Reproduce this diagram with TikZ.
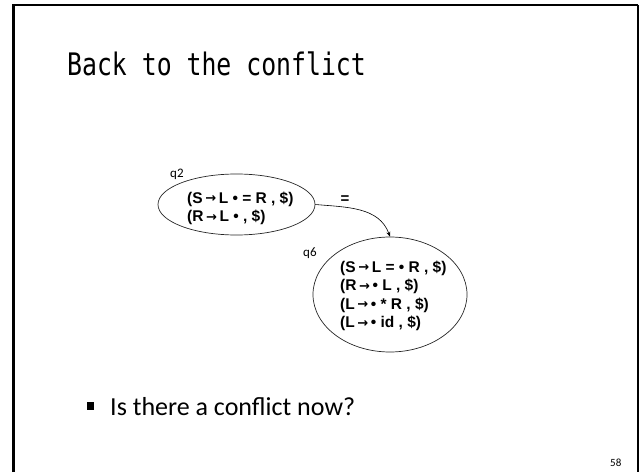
\documentclass[tikz,border=0pt]{standalone}
\usepackage{fontspec}
\setmainfont{Carlito}
\newfontfamily\titlefont{DejaVu Sans Mono}
\newfontfamily\itemfont{Liberation Sans}
\newfontfamily\arrowfont{DejaVu Sans}
\newcommand{\itemarrow}{\,{\arrowfont\bfseries\fontsize{13}{13}\selectfont\raisebox{0.5pt}{→}}\,}
\usetikzlibrary{positioning,shapes.geometric,arrows.meta}

\begin{document}
\begin{tikzpicture}[
    x=1pt, y=1pt,
    stateell/.style={ellipse, draw=black!85, line width=0.7pt, inner sep=0pt},
    items/.style={anchor=west, inner sep=0pt, align=left, font=\itemfont\bfseries\fontsize{15.5}{18.5}\selectfont},
    statelbl/.style={anchor=base west, inner sep=0pt, font=\fontsize{13}{15}\selectfont},
    trans/.style={-{Stealth[length=5pt,width=4pt]}, line width=0.6pt}
]
\useasboundingbox (0,0) rectangle (639,472);

% slide frame
\draw[line width=3pt] (13.5,0) -- (13.5,468);
\draw[line width=2pt] (12,467) -- (638,467);
\draw[line width=1.2pt] (638,467) -- (638,0);

\node[anchor=base west, inner sep=0pt] (title) at (67,396)
    {\scalebox{0.8}[1]{\titlefont\fontsize{31}{36}\selectfont Back to the conflict}};

% states
\node[stateell, minimum width=157pt, minimum height=61pt] (q2) at (236.5,267.5) {};
\node[stateell, minimum width=154pt, minimum height=115pt] (q6) at (390,177.5) {};
\node[items] (q2items) at (187,263.5) {(S\itemarrow L • = R , \$)\\(R\itemarrow L • , \$)};
\node[items] (q6items) at (340,176) {(S\itemarrow L = • R , \$)\\(R\itemarrow • L , \$)\\(L\itemarrow • * R , \$)\\(L\itemarrow • id , \$)};
\node[statelbl] (q2lbl) at (170,295) {q2};
\node[statelbl] (q6lbl) at (303,216) {q6};

% transition
\node[font=\itemfont\bfseries\fontsize{15}{18}\selectfont, inner sep=0pt] (eq) at (345,272) {=};
\draw[trans] (q2.east) to[out=-5, in=110] (q6.north);

\node[fill=black, minimum width=7pt, minimum height=8pt, inner sep=0pt] (bullet) at (90.5,66) {};
\node[anchor=base west, inner sep=0pt, font=\fontsize{26}{30}\selectfont] (question) at (110,57) {Is there a conflict now?};

\node[anchor=base west, inner sep=0pt, font=\fontsize{11}{13}\selectfont] (pageno) at (610,6) {58};
\end{tikzpicture}
\end{document}
